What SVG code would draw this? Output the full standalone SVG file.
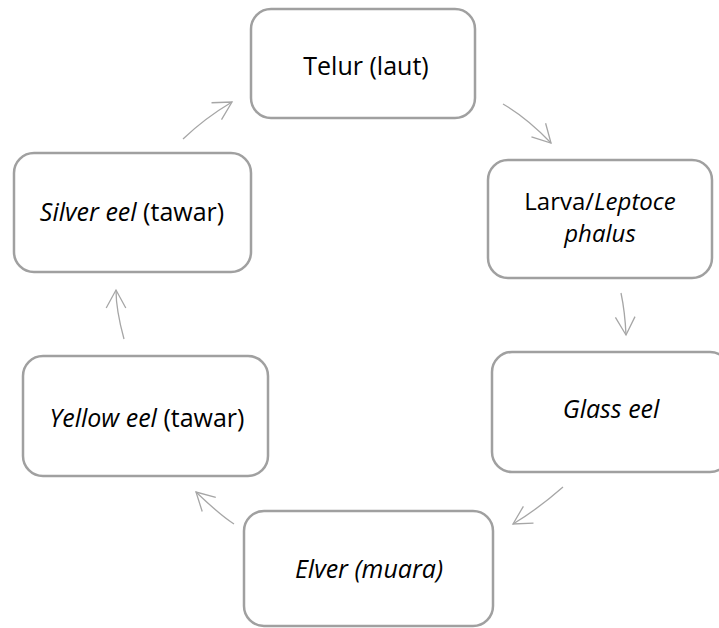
<svg xmlns="http://www.w3.org/2000/svg" width="719" height="628" viewBox="0 0 719 628">
<style>
.box{fill:#ffffff;stroke:#a0a0a0;stroke-width:2.5}
.lbl{font-family:"Open Sans","Liberation Sans",sans-serif;font-size:25px;fill:#000000;text-anchor:middle}
.sm{font-size:24px}
.it{font-style:italic}
.arr{fill:none;stroke:#a6a6a6;stroke-width:1.3;marker-end:url(#head)}
</style>
<defs>
<marker id="head" markerUnits="userSpaceOnUse" refX="0" refY="0" markerWidth="40" markerHeight="40" orient="auto" overflow="visible">
<path d="M-18,-9.8 L0,0 L-18,9.8" fill="none" stroke="#a6a6a6" stroke-width="1.3"/>
</marker>
</defs>
<rect width="719" height="628" fill="#ffffff"/>
<g id="connectors">
<path class="arr" d="M183,139 Q205,118 232,102"/>
<path class="arr" d="M503,104 Q527,118 551,143"/>
<path class="arr" d="M621,293 Q625,312 626,335"/>
<path class="arr" d="M563,487 Q538,509 513,524"/>
<path class="arr" d="M234,524 Q220,515 196,492"/>
<path class="arr" d="M124,339 Q116,310 116,290"/>
</g>
<g id="node-telur">
<rect class="box" x="251" y="9" width="224" height="109" rx="20"/>
<text class="lbl" x="366" y="75">Telur (laut)</text>
</g>
<g id="node-larva">
<rect class="box" x="488" y="160" width="224" height="118" rx="20"/>
<text class="lbl sm" x="600" y="210">Larva/<tspan class="it">Leptoce</tspan></text>
<text class="lbl sm it" x="600" y="242">phalus</text>
</g>
<g id="node-glass">
<rect class="box" x="492" y="352" width="238" height="120" rx="20"/>
<text class="lbl it" x="611" y="418">Glass eel</text>
</g>
<g id="node-elver">
<rect class="box" x="244" y="511" width="249" height="115" rx="20"/>
<text class="lbl it" x="369" y="578">Elver (muara)</text>
</g>
<g id="node-yellow">
<rect class="box" x="23" y="356" width="245" height="120" rx="20"/>
<text class="lbl" x="147" y="427"><tspan class="it">Yellow eel</tspan> (tawar)</text>
</g>
<g id="node-silver">
<rect class="box" x="14" y="153" width="237" height="119" rx="20"/>
<text class="lbl" x="132" y="221"><tspan class="it">Silver eel</tspan> (tawar)</text>
</g>
</svg>
